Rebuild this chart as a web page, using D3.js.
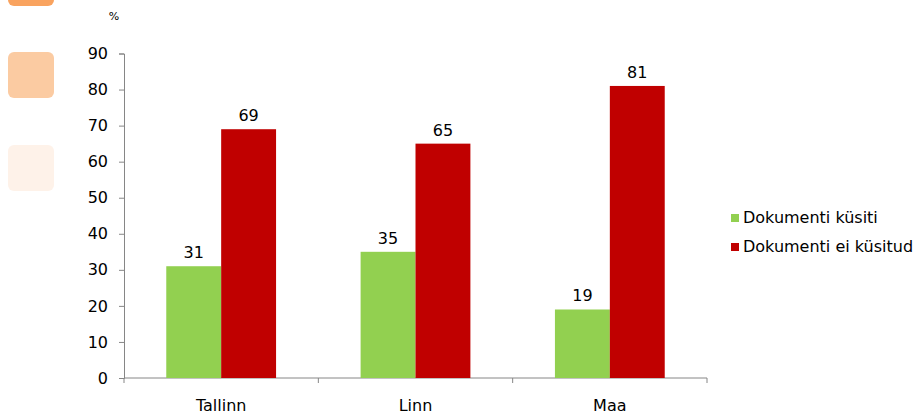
<!DOCTYPE html>
<html>
<head>
<meta charset="utf-8">
<script src="https://cdn.jsdelivr.net/npm/d3@7"></script>
<style>
  body { margin: 0; background: #fff; }
  svg { display: block; font-family: "DejaVu Sans", sans-serif; }
</style>
</head>
<body>
<svg id="chart" width="924" height="417"></svg>
<script>
// chart data
var categories = ["Tallinn", "Linn", "Maa"];
var seriesNames = ["Dokumenti küsiti", "Dokumenti ei küsitud"];
var asked = [31, 35, 19];
var notAsked = [69, 65, 81];
var yTicks = [0, 10, 20, 30, 40, 50, 60, 70, 80, 90];
var colors = ["#92d050", "#c00000"];

var svg = d3.select("#chart");

// decorative squares on the left side
var decor = [
  {y: -40, fill: "#f9a35f"},
  {y: 52, fill: "#fbcba2"},
  {y: 145, fill: "#fef2e9"}
];
svg.selectAll("rect.decor")
  .data(decor).enter()
  .append("rect")
  .attr("class", "decor")
  .attr("x", 8)
  .attr("y", function(d) { return d.y; })
  .attr("width", 46)
  .attr("height", 46)
  .attr("rx", 6)
  .style("fill", function(d) { return d.fill; });

var plotLeft = 124, plotRight = 707, plotTop = 53.5, plotBottom = 378;

var y = d3.scaleLinear().domain([0, 90]).range([plotBottom, plotTop]);
var x0 = d3.scaleBand().domain(categories).range([plotLeft, plotRight]).paddingInner(0).paddingOuter(0);
var x1 = d3.scaleBand().domain([0, 1]).range([0, x0.bandwidth()]).paddingInner(0).paddingOuter(0.77);

var g = svg.append("g");

// y axis
var yAxis = g.append("g")
  .attr("transform", "translate(" + plotLeft + ",0)")
  .call(d3.axisLeft(y).tickValues(yTicks).tickSize(5).tickPadding(11));
yAxis.attr("font-family", null).attr("font-size", null);
yAxis.selectAll("text").style("font-size", "16px").style("fill", "#000");
yAxis.selectAll("line, path").style("stroke", "#868686");

// x axis with ticks at category boundaries
var xAxis = g.append("g")
  .attr("transform", "translate(0," + plotBottom + ")");
xAxis.append("line")
  .attr("x1", plotLeft).attr("x2", plotRight)
  .style("stroke", "#868686");
xAxis.selectAll("line.tick")
  .data(d3.range(categories.length + 1)).enter()
  .append("line")
  .attr("class", "tick")
  .attr("x1", function(i) { return plotLeft + i * x0.bandwidth(); })
  .attr("x2", function(i) { return plotLeft + i * x0.bandwidth(); })
  .attr("y1", 0).attr("y2", 5)
  .style("stroke", "#868686");
xAxis.selectAll("text")
  .data(categories).enter()
  .append("text")
  .attr("x", function(d) { return x0(d) + x0.bandwidth() / 2; })
  .attr("y", 33)
  .attr("text-anchor", "middle")
  .style("font-size", "16px")
  .text(function(d) { return d; });

// percent label
svg.append("text")
  .attr("x", 114).attr("y", 20)
  .attr("text-anchor", "middle")
  .style("font-size", "11px")
  .text("%");

// bars
var rows = categories.map(function(c, i) { return {cat: c, vals: [asked[i], notAsked[i]]}; });
var groups = g.selectAll("g.cat")
  .data(rows).enter()
  .append("g")
  .attr("class", "cat")
  .attr("transform", function(d) { return "translate(" + x0(d.cat) + ",0)"; });

groups.selectAll("rect")
  .data(function(d) { return d.vals; }).enter()
  .append("rect")
  .attr("x", function(d, i) { return x1(i); })
  .attr("y", function(d) { return y(d); })
  .attr("width", x1.bandwidth())
  .attr("height", function(d) { return plotBottom - y(d); })
  .style("fill", function(d, i) { return colors[i]; });

groups.selectAll("text")
  .data(function(d) { return d.vals; }).enter()
  .append("text")
  .attr("x", function(d, i) { return x1(i) + x1.bandwidth() / 2; })
  .attr("y", function(d) { return y(d) - 8; })
  .attr("text-anchor", "middle")
  .style("font-size", "16px")
  .text(function(d) { return d; });

// legend
var legend = svg.selectAll("g.legend")
  .data(seriesNames).enter()
  .append("g")
  .attr("class", "legend")
  .attr("transform", function(d, i) { return "translate(731," + (214 + i * 29) + ")"; });
legend.append("rect")
  .attr("width", 8).attr("height", 8)
  .style("fill", function(d, i) { return colors[i]; });
legend.append("text")
  .attr("x", 12).attr("y", 9)
  .style("font-size", "16px")
  .text(function(d) { return d; });
</script>
</body>
</html>
